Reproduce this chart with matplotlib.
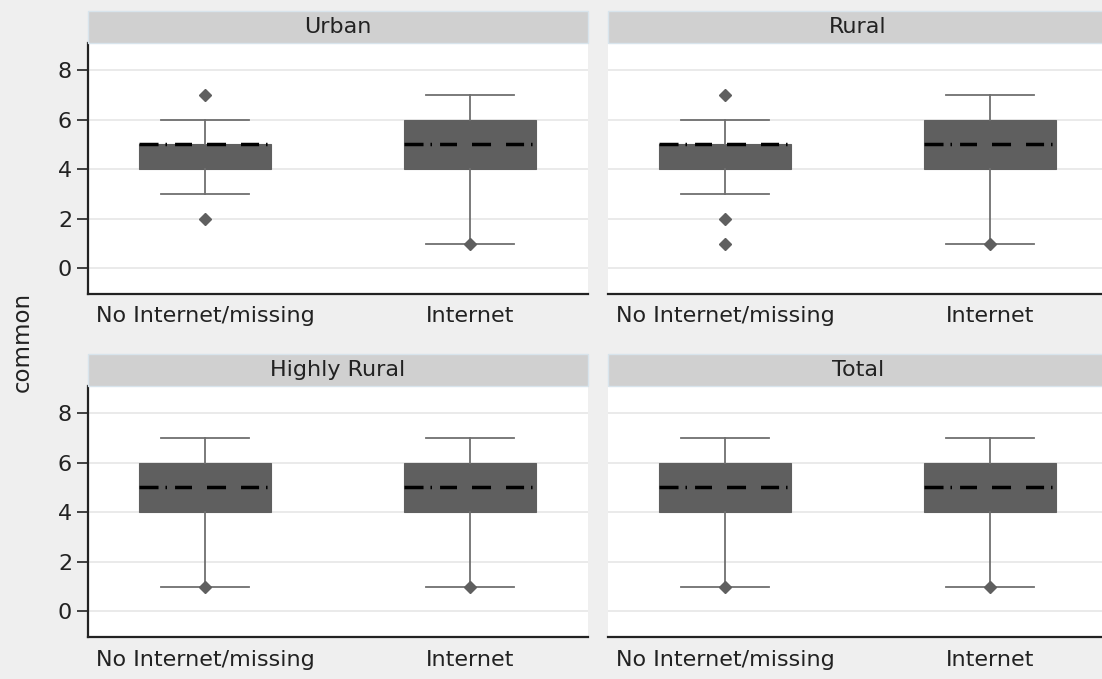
import matplotlib
matplotlib.use("Agg")
import matplotlib.pyplot as plt
from matplotlib.patches import Rectangle

# Box summaries for each area, two groups per area
PANELS = ["Urban", "Rural", "Highly Rural", "Total"]
GROUPS = ["No Internet/missing", "Internet"]
Q1 = [[4, 4], [4, 4], [4, 4], [4, 4]]
MEDIAN = [[5, 5], [5, 5], [5, 5], [5, 5]]
Q3 = [[5, 6], [5, 6], [6, 6], [6, 6]]
WHISK_LO = [[3, 1], [3, 1], [1, 1], [1, 1]]
WHISK_HI = [[6, 7], [6, 7], [7, 7], [7, 7]]
OUTLIERS = [[[2, 7], [1]], [[1, 2, 7], [1]], [[1], [1]], [[1], [1]]]
Y_TICKS = [0, 2, 4, 6, 8]

plt.rcParams['font.family'] = ['DejaVu Sans']
plt.rcParams['lines.scale_dashes'] = False

W, H = 1102, 679
BG = '#efefef'
BOX = '#5f5f5f'
WHISK = '#6f6f6f'

fig = plt.figure(figsize=(W / 100, H / 100), dpi=100, facecolor=BG)

# pixel layout of the 2x2 grid
lefts = [88, 608]
tops = [43, 386]
aw, ah = 500, 251
strip_h = 32

median_dash = (0, (13.7, 5.0, 1.1, 5.8, 12.2, 10.8, 13.7, 10.8, 13.0, 5.0, 1.1, 30))

for idx, name in enumerate(PANELS):
    r, c = divmod(idx, 2)
    x0, y0 = lefts[c], tops[r]
    ax = fig.add_axes([x0 / W, 1 - (y0 + ah) / H, aw / W, ah / H])
    ax.set_facecolor('white')

    stats = []
    for g in range(2):
        stats.append(dict(
            med=MEDIAN[idx][g], q1=Q1[idx][g], q3=Q3[idx][g],
            whislo=WHISK_LO[idx][g], whishi=WHISK_HI[idx][g],
            fliers=OUTLIERS[idx][g], label=GROUPS[g]))

    ax.bxp(stats, positions=[0, 1], widths=0.5, capwidths=0.33,
           patch_artist=True, showfliers=True,
           boxprops=dict(facecolor=BOX, edgecolor=BOX, linewidth=0.8),
           whiskerprops=dict(color=WHISK, linewidth=1.3),
           capprops=dict(color=WHISK, linewidth=1.3),
           medianprops=dict(color='black', linewidth=2.5,
                            linestyle=median_dash, solid_capstyle='butt',
                            dash_capstyle='butt', zorder=4),
           flierprops=dict(marker='D', markersize=6.5, markerfacecolor=BOX,
                           markeredgecolor=BOX, linestyle='none', zorder=5))

    ax.set_xlim(-0.4415, 1.4455)
    ax.set_ylim(-1.04, 9.1)
    ax.set_yticks(Y_TICKS)
    ax.yaxis.grid(True, color='#e8e8e8', linewidth=1.3)
    ax.set_axisbelow(True)

    for s in ['top', 'right']:
        ax.spines[s].set_visible(False)
    for s in ['left', 'bottom']:
        ax.spines[s].set_color('#222222')
        ax.spines[s].set_linewidth(1.6)

    ax.tick_params(axis='y', length=8, width=1.2, color='#222222', pad=3.5,
                   labelsize=16, labelcolor='#222222')
    ax.tick_params(axis='x', length=0, pad=9, labelsize=16, labelcolor='#222222')
    ax.set_xticks([0, 1])
    ax.set_xticklabels(GROUPS)

    # right column shares the y axis of the left one
    if c == 1:
        ax.spines['left'].set_visible(False)
        ax.tick_params(axis='y', length=0, labelleft=False)

    # strip header above each panel
    hh = strip_h / ah
    ax.add_patch(Rectangle((0, 1), 1, hh, transform=ax.transAxes,
                           facecolor='#d0d0d0', edgecolor='#d8e4ec',
                           linewidth=1, clip_on=False, zorder=3))
    ax.text(0.5, 1 + hh / 2, name, transform=ax.transAxes, ha='center',
            va='center', fontsize=16, color='#222222', zorder=4)

fig.text(22 / W, 1 - 342 / H, "common", rotation=90, ha='center',
         va='center', fontsize=16.5, color='#222222')

fig.savefig("out.png", dpi=100, facecolor=BG)
